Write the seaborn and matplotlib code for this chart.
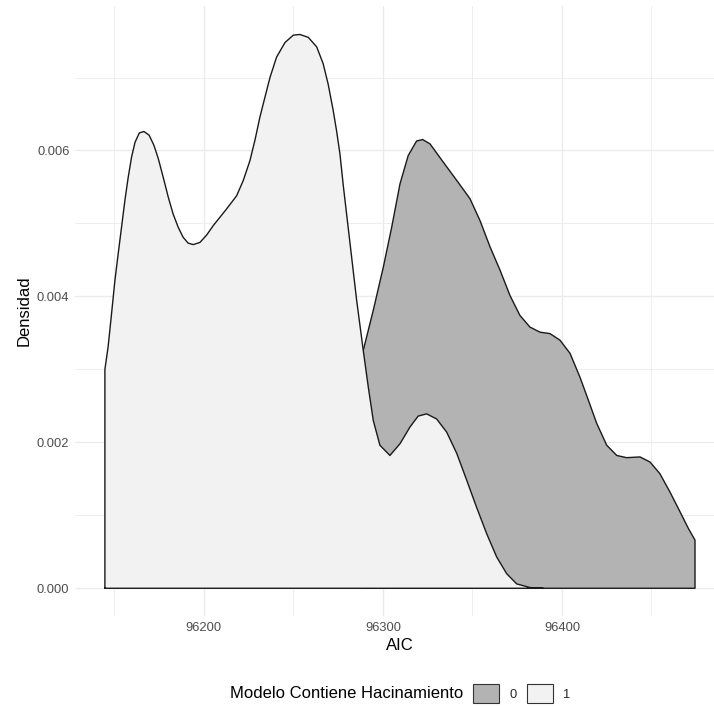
import numpy as np
import pandas as pd
import matplotlib
matplotlib.use("Agg")
import matplotlib.pyplot as plt
from matplotlib.patches import Patch
from matplotlib.ticker import FixedLocator
import seaborn as sns

# ---- data (density curves per group) ----
aic_1 = [96144.7, 96146.5, 96148.4, 96150.3, 96152.1, 96154.0, 96155.9, 96157.7,
         96159.6, 96161.5, 96163.9, 96166.5, 96169.4, 96172.1, 96174.5, 96177.3,
         96180.1, 96182.8, 96185.6, 96188.4, 96191.2, 96194.0, 96197.8, 96201.5,
         96205.2, 96212.7, 96218.3, 96222.0, 96225.7, 96228.5, 96231.3, 96234.1,
         96236.9, 96240.6, 96245.3, 96249.9, 96253.6, 96258.3, 96263.0, 96266.6,
         96269.4, 96272.2, 96274.1, 96276.0, 96277.8, 96279.7, 96281.6, 96285.3,
         96289.0, 96291.8, 96294.6, 96298.3, 96303.9, 96309.5, 96315.1, 96319.7,
         96324.4, 96330.0, 96335.6, 96341.2, 96346.8, 96352.3, 96357.9, 96363.5,
         96369.1, 96374.7, 96382.1, 96389.6]
dens_1 = [0.00300, 0.00331, 0.00376, 0.00422, 0.00458, 0.00495, 0.00532, 0.00563,
          0.00591, 0.00611, 0.00624, 0.00626, 0.00621, 0.00607, 0.00589, 0.00563,
          0.00536, 0.00513, 0.00495, 0.00481, 0.00473, 0.00471, 0.00474, 0.00484,
          0.00497, 0.00520, 0.00538, 0.00559, 0.00586, 0.00614, 0.00646, 0.00673,
          0.00700, 0.00728, 0.00748, 0.00758, 0.00759, 0.00755, 0.00742, 0.00719,
          0.00691, 0.00655, 0.00627, 0.00595, 0.00553, 0.00513, 0.00473, 0.00395,
          0.00326, 0.00276, 0.00230, 0.00196, 0.00182, 0.00198, 0.00221, 0.00236,
          0.00239, 0.00232, 0.00214, 0.00185, 0.00148, 0.00111, 0.00075, 0.00043,
          0.00020, 0.00006, 0.00001, 0.00000]

aic_0 = [96289.0, 96294.6, 96300.2, 96304.9, 96309.5, 96314.1, 96318.8, 96322.2,
         96326.3, 96333.7, 96341.2, 96348.6, 96354.2, 96359.8, 96365.4, 96371.0,
         96376.5, 96382.1, 96387.7, 96393.3, 96398.9, 96404.5, 96410.1, 96414.7,
         96419.4, 96425.0, 96430.6, 96436.1, 96443.6, 96449.2, 96454.7, 96460.3,
         96465.9, 96470.6, 96474.3]
dens_0 = [0.00326, 0.00381, 0.00440, 0.00495, 0.00554, 0.00593, 0.00613, 0.00615,
          0.00609, 0.00584, 0.00559, 0.00534, 0.00504, 0.00468, 0.00436, 0.00401,
          0.00374, 0.00358, 0.00351, 0.00349, 0.00340, 0.00322, 0.00289, 0.00258,
          0.00226, 0.00196, 0.00182, 0.00179, 0.00180, 0.00173, 0.00157, 0.00132,
          0.00105, 0.00082, 0.00066]

groups = ["0", "1"]
fill_colors = {"0": "#B3B3B3", "1": "#F2F2F2"}
x_ticks = [96200, 96300, 96400]
x_minor = [96150, 96250, 96350, 96450]
y_ticks = [0.000, 0.002, 0.004, 0.006]
y_minor = [0.001, 0.003, 0.005, 0.007]

curves = {"0": (aic_0, dens_0), "1": (aic_1, dens_1)}

sns.set_theme(style="white")
plt.rcParams["font.family"] = ["Liberation Sans", "DejaVu Sans"]

fig = plt.figure(figsize=(7.14, 7.06), dpi=100)
ax = fig.add_axes([75 / 714, 90 / 706, (724.9 - 75) / 714, 610 / 706])

edge = "#1a1a1a"
for i, g in enumerate(groups):
    xs, ys = curves[g]
    z = 2 + i
    ax.fill_between(xs, ys, 0, facecolor=fill_colors[g], edgecolor="none",
                    linewidth=0, zorder=z)
    # closed outline: baseline -> curve -> baseline -> start
    ox = [xs[0]] + list(xs) + [xs[-1], xs[0]]
    oy = [0.0] + list(ys) + [0.0, 0.0]
    odf = pd.DataFrame({"AIC": ox, "Densidad": oy})
    sns.lineplot(data=odf, x="AIC", y="Densidad", sort=False, estimator=None,
                 color=edge, linewidth=1.0, ax=ax, legend=False, zorder=z + 0.5)

ax.set_xlim(96128, 96491)
ax.set_ylim(-0.00038, 0.00798)
ax.xaxis.set_major_locator(FixedLocator(x_ticks))
ax.xaxis.set_minor_locator(FixedLocator(x_minor))
ax.yaxis.set_major_locator(FixedLocator(y_ticks))
ax.yaxis.set_minor_locator(FixedLocator(y_minor))
ax.set_xticklabels([str(v) for v in x_ticks])
ax.set_yticklabels([f"{v:.3f}" for v in y_ticks])
ax.grid(which="major", color="#EBEBEB", linewidth=1.0, zorder=0)
ax.grid(which="minor", color="#EBEBEB", linewidth=0.6, zorder=0)
ax.set_axisbelow(True)
for s in ax.spines.values():
    s.set_visible(False)
ax.tick_params(which="both", length=0, labelsize=9.3, labelcolor="#4D4D4D", pad=4)

ax.set_xlabel("AIC", fontsize=12, color="black", labelpad=3)
ax.set_ylabel("Densidad", fontsize=12, color="black", labelpad=4)

fig.text(463 / 714, 1 - 693 / 706, "Modelo Contiene Hacinamiento",
         ha="right", va="center", fontsize=12, color="black")
handles = [Patch(facecolor=fill_colors[g], edgecolor="#333333", linewidth=0.8)
           for g in groups]
fig.legend(handles=handles, labels=groups, ncol=2, loc="center left",
           bbox_to_anchor=(473 / 714, 1 - 693.5 / 706), frameon=False,
           fontsize=9.3, handlelength=2.0, handleheight=1.9, handletextpad=0.8,
           columnspacing=0.8, borderpad=0, borderaxespad=0)

fig.savefig("out.png", dpi=100)
